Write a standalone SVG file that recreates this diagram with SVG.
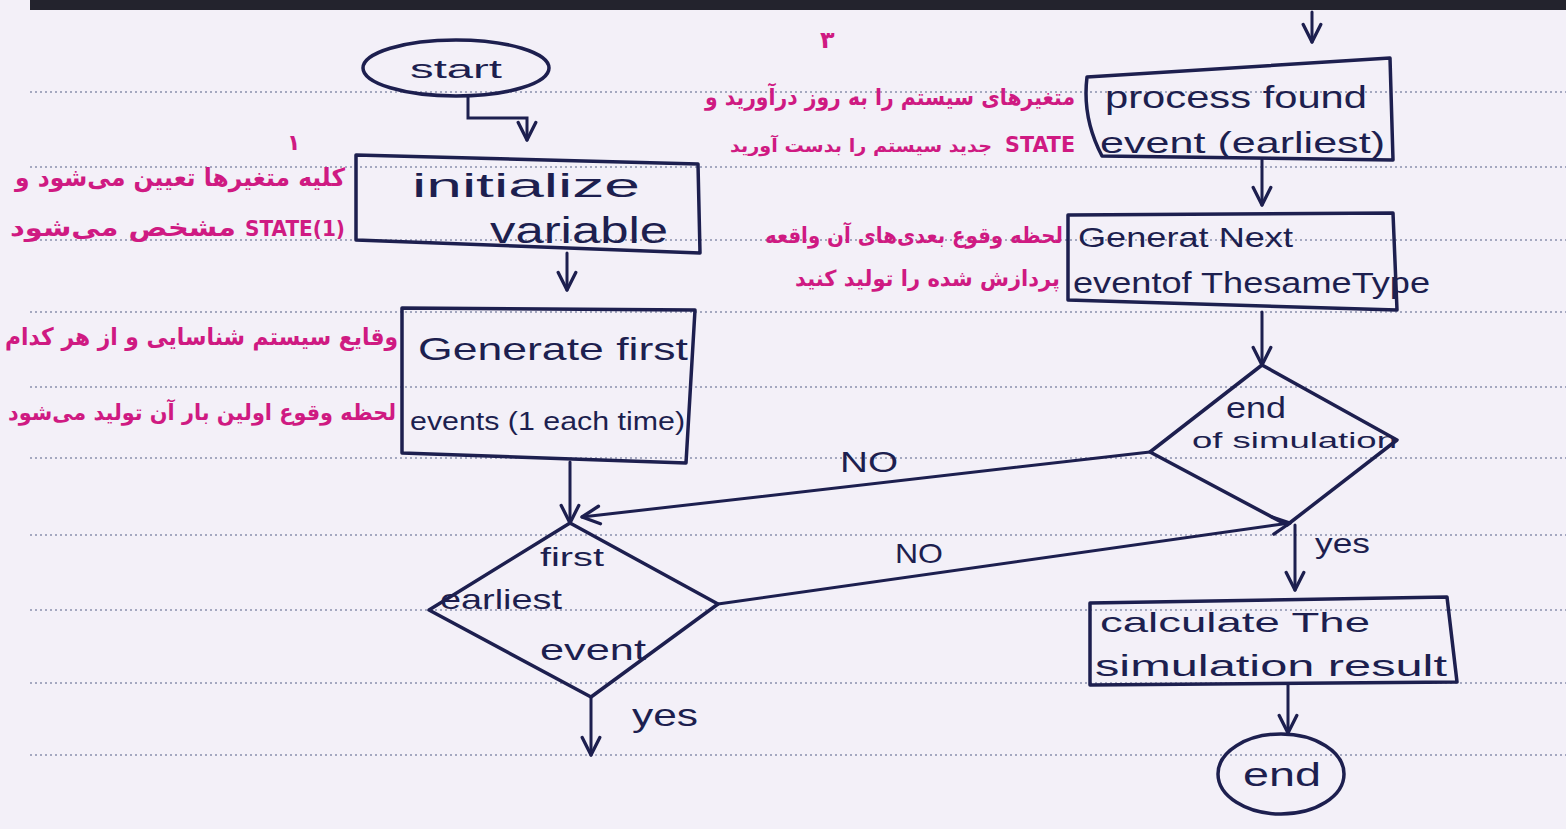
<svg xmlns="http://www.w3.org/2000/svg" width="1566" height="829" viewBox="0 0 1566 829">
<defs>
<marker id="ah" viewBox="0 0 20 20" refX="18" refY="10" markerWidth="22" markerHeight="22" markerUnits="userSpaceOnUse" orient="auto">
<path d="M2,2 L18,10 L2,18" fill="none" stroke="#1d1f4f" stroke-width="3" stroke-linecap="round" stroke-linejoin="round"/>
</marker>
</defs>
<style>
.bg{fill:#f3f0f8}
.rule{stroke:#8a90ad;stroke-width:1.6;stroke-dasharray:2 3}
.shape{fill:none;stroke:#1d1f4f;stroke-width:3.5;stroke-linejoin:round}
.conn{fill:none;stroke:#1d1f4f;stroke-width:3;stroke-linecap:round}
.t{font-family:"Liberation Sans","DejaVu Sans",sans-serif;fill:#1d1f4f}
.fa{font-family:"DejaVu Sans","Noto Sans",sans-serif;fill:#cf1a82;font-weight:bold}
</style>
<rect class="bg" x="0" y="0" width="1566" height="829"/>
<rect x="30" y="0" width="1536" height="10" fill="#23232d"/>
<g id="rules">
<line class="rule" x1="30" y1="92" x2="1566" y2="92"/>
<line class="rule" x1="30" y1="167" x2="1566" y2="167"/>
<line class="rule" x1="30" y1="240" x2="1566" y2="240"/>
<line class="rule" x1="30" y1="312" x2="1566" y2="312"/>
<line class="rule" x1="30" y1="387" x2="1566" y2="387"/>
<line class="rule" x1="30" y1="458" x2="1566" y2="458"/>
<line class="rule" x1="30" y1="535" x2="1566" y2="535"/>
<line class="rule" x1="30" y1="610" x2="1566" y2="610"/>
<line class="rule" x1="30" y1="683" x2="1566" y2="683"/>
<line class="rule" x1="30" y1="755" x2="1566" y2="755"/>
</g>
<g id="connectors">
<path class="conn" d="M468,97 L468,118 L527,118 L527,140" marker-end="url(#ah)"/>
<path class="conn" d="M567,253 L567,290" marker-end="url(#ah)"/>
<path class="conn" d="M570,462 L570,523" marker-end="url(#ah)"/>
<path class="conn" d="M591,697 L591,755" marker-end="url(#ah)"/>
<path class="conn" d="M718,604 L1290,523" marker-end="url(#ah)"/>
<path class="conn" d="M1150,452 L582,517" marker-end="url(#ah)"/>
<path class="conn" d="M1312,12 L1312,42" marker-end="url(#ah)" stroke-width="4"/>
<path class="conn" d="M1262,160 L1262,205" marker-end="url(#ah)"/>
<path class="conn" d="M1262,312 L1262,365" marker-end="url(#ah)"/>
<path class="conn" d="M1295,525 L1295,590" marker-end="url(#ah)"/>
<path class="conn" d="M1288,684 L1288,733" marker-end="url(#ah)"/>
<text class="t" x="840" y="472" font-size="30" textLength="58" lengthAdjust="spacingAndGlyphs">NO</text>
<text class="t" x="895" y="563" font-size="28" textLength="48" lengthAdjust="spacingAndGlyphs">NO</text>
<text class="t" x="632" y="726" font-size="32" textLength="66" lengthAdjust="spacingAndGlyphs">yes</text>
<text class="t" x="1315" y="553" font-size="28" textLength="55" lengthAdjust="spacingAndGlyphs">yes</text>
</g>
<g id="start">
<ellipse class="shape" cx="456" cy="68" rx="93" ry="28"/>
<text class="t" x="410" y="78" font-size="26" textLength="92" lengthAdjust="spacingAndGlyphs">start</text>
</g>
<g id="initialize">
<polygon class="shape" points="356,155 698,164 700,253 356,240"/>
<text class="t" x="412" y="197" font-size="34" textLength="228" lengthAdjust="spacingAndGlyphs">initialize</text>
<text class="t" x="490" y="243" font-size="36" textLength="178" lengthAdjust="spacingAndGlyphs">variable</text>
</g>
<g id="generate-first">
<polygon class="shape" points="402,308 695,310 686,463 402,453"/>
<text class="t" x="418" y="360" font-size="32" textLength="270" lengthAdjust="spacingAndGlyphs">Generate first</text>
<text class="t" x="410" y="430" font-size="26" textLength="275" lengthAdjust="spacingAndGlyphs">events (1 each time)</text>
</g>
<g id="first-earliest-event">
<polygon class="shape" points="570,523 718,604 591,697 429,610"/>
<text class="t" x="540" y="566" font-size="26" textLength="64" lengthAdjust="spacingAndGlyphs">first</text>
<text class="t" x="440" y="609" font-size="28" textLength="122" lengthAdjust="spacingAndGlyphs">earliest</text>
<text class="t" x="540" y="660" font-size="30" textLength="106" lengthAdjust="spacingAndGlyphs">event</text>
</g>
<g id="process-found">
<path class="shape" d="M1087,77 L1390,58 L1393,160 L1102,156 Q1082,118 1087,77 Z"/>
<text class="t" x="1105" y="108" font-size="32" textLength="262" lengthAdjust="spacingAndGlyphs">process found</text>
<text class="t" x="1100" y="153" font-size="30" textLength="285" lengthAdjust="spacingAndGlyphs">event (earliest)</text>
</g>
<g id="generate-next">
<polygon class="shape" points="1068,215 1393,213 1397,310 1068,300"/>
<text class="t" x="1078" y="247" font-size="28" textLength="215" lengthAdjust="spacingAndGlyphs">Generat Next</text>
<text class="t" x="1073" y="293" font-size="30" textLength="357" lengthAdjust="spacingAndGlyphs">eventof ThesameType</text>
</g>
<g id="end-of-simulation">
<polygon class="shape" points="1262,365 1397,440 1287,525 1150,452"/>
<text class="t" x="1226" y="418" font-size="30" textLength="60" lengthAdjust="spacingAndGlyphs">end</text>
<text class="t" x="1192" y="448" font-size="22" textLength="205" lengthAdjust="spacingAndGlyphs">of simulation</text>
</g>
<g id="calculate">
<polygon class="shape" points="1090,603 1447,597 1457,682 1090,685"/>
<text class="t" x="1100" y="632" font-size="28" textLength="270" lengthAdjust="spacingAndGlyphs">calculate The</text>
<text class="t" x="1095" y="676" font-size="30" textLength="352" lengthAdjust="spacingAndGlyphs">simulation result</text>
</g>
<g id="end">
<ellipse class="shape" cx="1281" cy="774" rx="63" ry="40"/>
<text class="t" x="1243" y="786" font-size="34" textLength="78" lengthAdjust="spacingAndGlyphs">end</text>
</g>
<g id="notes">
<text class="fa" x="287" y="150" font-size="22">۱</text>
<text class="fa" x="15" y="186" font-size="25" textLength="330" lengthAdjust="spacingAndGlyphs">کلیه متغیرها تعیین می‌شود و</text>
<text class="fa" x="245" y="236" font-size="22" textLength="100" lengthAdjust="spacingAndGlyphs">STATE(1)</text>
<text class="fa" x="10" y="236" font-size="24" textLength="226" lengthAdjust="spacingAndGlyphs">مشخص می‌شود</text>
<text class="fa" x="5" y="345" font-size="24" textLength="393" lengthAdjust="spacingAndGlyphs">وقایع سیستم شناسایی و از هر کدام</text>
<text class="fa" x="8" y="420" font-size="22" textLength="388" lengthAdjust="spacingAndGlyphs">لحظه وقوع اولین بار آن تولید می‌شود</text>
<text class="fa" x="820" y="48" font-size="24">۳</text>
<text class="fa" x="705" y="105" font-size="23" textLength="370" lengthAdjust="spacingAndGlyphs">متغیرهای سیستم را به روز درآورید و</text>
<text class="fa" x="1005" y="152" font-size="22" textLength="70" lengthAdjust="spacingAndGlyphs">STATE</text>
<text class="fa" x="730" y="152" font-size="18" textLength="262" lengthAdjust="spacingAndGlyphs">جدید سیستم را بدست آورید</text>
<text class="fa" x="765" y="243" font-size="22" textLength="298" lengthAdjust="spacingAndGlyphs">لحظه وقوع بعدی‌های آن واقعه</text>
<text class="fa" x="795" y="286" font-size="22" textLength="265" lengthAdjust="spacingAndGlyphs">پردازش شده را تولید کنید</text>
</g>
</svg>
